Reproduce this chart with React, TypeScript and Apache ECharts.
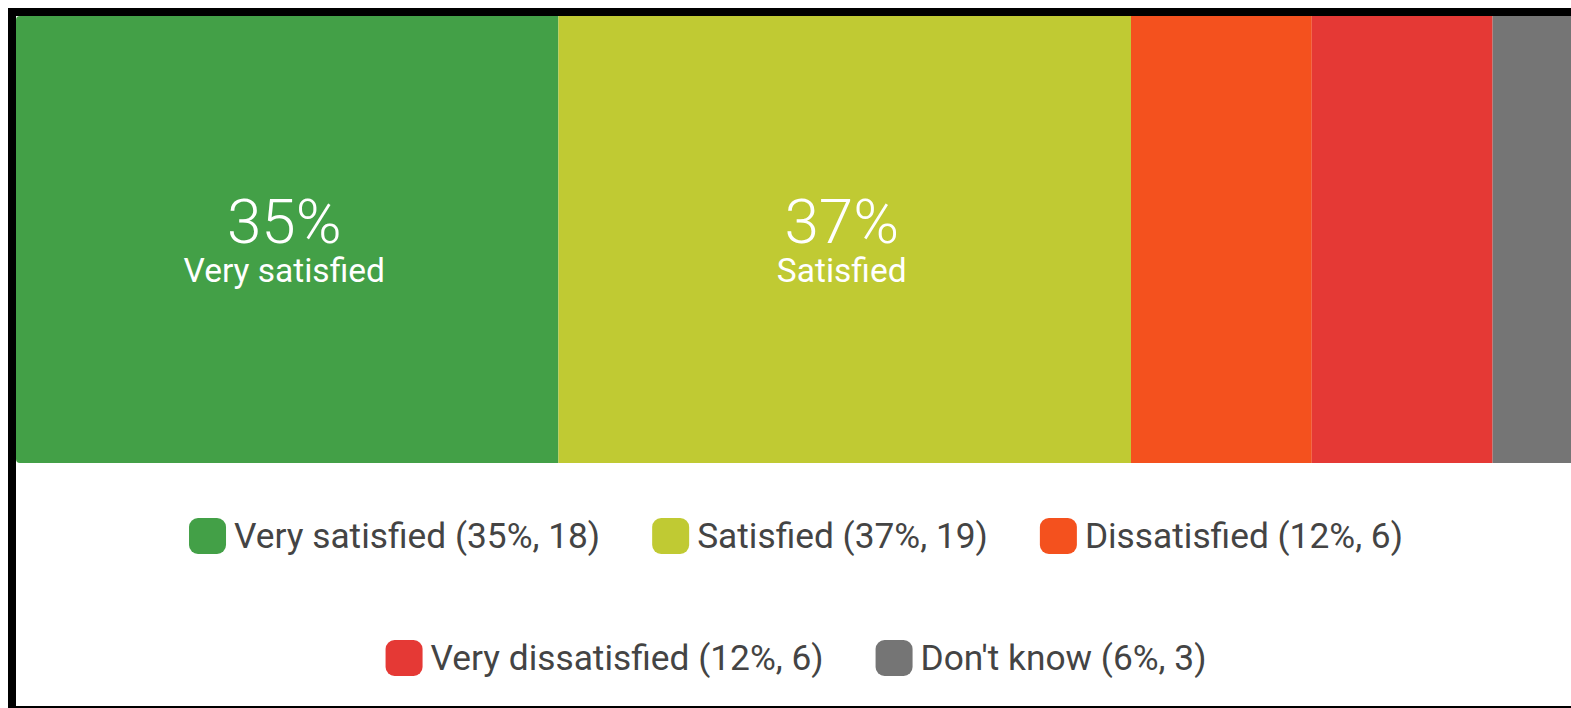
import React, { useEffect, useRef } from "react";
import * as echarts from "echarts";

const categories = ["Very satisfied", "Satisfied", "Dissatisfied", "Very dissatisfied", "Don't know"];
const counts = [18, 19, 6, 6, 3];
const percents = [35, 37, 12, 12, 6];
const colors = ["#43a047", "#c0ca33", "#f4511e", "#e53935", "#757575"];
const labelled = [true, true, false, false, false];
const legendRow1 = categories.slice(0, 3);
const legendRow2 = categories.slice(3);

export default function App() {
  const ref = useRef<HTMLDivElement>(null);
  useEffect(() => {
    if (!ref.current) return;
    const chart = echarts.init(ref.current, null, { renderer: "svg" });
    const total = counts.reduce((a, b) => a + b, 0);
    const legendBase = {
      left: "center",
      itemWidth: 37,
      itemHeight: 36,
      itemGap: 52,
      icon: "roundRect",
      selectedMode: false,
      textStyle: { fontFamily: "Roboto", fontSize: 35.3, color: "#444", padding: [0, 0, 0, 3] },
      formatter: (name: string) => {
        const i = categories.indexOf(name);
        return `${name} (${percents[i]}%, ${counts[i]})`;
      },
    };
    chart.setOption({
      animation: false,
      textStyle: { fontFamily: "Roboto" },
      grid: { left: 20, top: 0, width: 1567, height: 447, outerBoundsMode: "none" },
      xAxis: { type: "value", min: 0, max: total, show: false },
      yAxis: { type: "category", data: ["Responses"], show: false },
      legend: [
        { ...legendBase, top: 497, data: legendRow1 },
        { ...legendBase, top: 619, data: legendRow2 },
      ],
      series: categories.map((name, i) => ({
        name,
        type: "bar",
        stack: "total",
        barWidth: "100%",
        data: [counts[i]],
        itemStyle: {
          color: colors[i],
          borderRadius: i === 0 ? [4, 0, 0, 4] : 0,
        },
        label: {
          show: labelled[i],
          position: "inside",
          offset: [-3, 0],
          formatter: () => `{a|${percents[i]}%}\n{b|${name}}`,
          rich: {
            a: { fontSize: 62, fontWeight: 300, color: "#fff", lineHeight: 62, fontFamily: "Roboto" },
            b: { fontSize: 33.5, color: "#fff", lineHeight: 36, fontFamily: "Roboto" },
          },
        },
      })),
    });
    return () => chart.dispose();
  }, []);
  return (
    <div style={{ position: "fixed", left: 8, top: 8, width: 1563, height: 700, overflow: "hidden", background: "#fff" }}>
      <div
        style={{
          borderTop: "8px solid #000",
          borderLeft: "8px solid #000",
          borderBottom: "8px solid #000",
          width: 1620,
          height: 690,
        }}
      >
        <div ref={ref} style={{ width: 1600, height: 690, marginLeft: -20 }} />
      </div>
    </div>
  );
}
